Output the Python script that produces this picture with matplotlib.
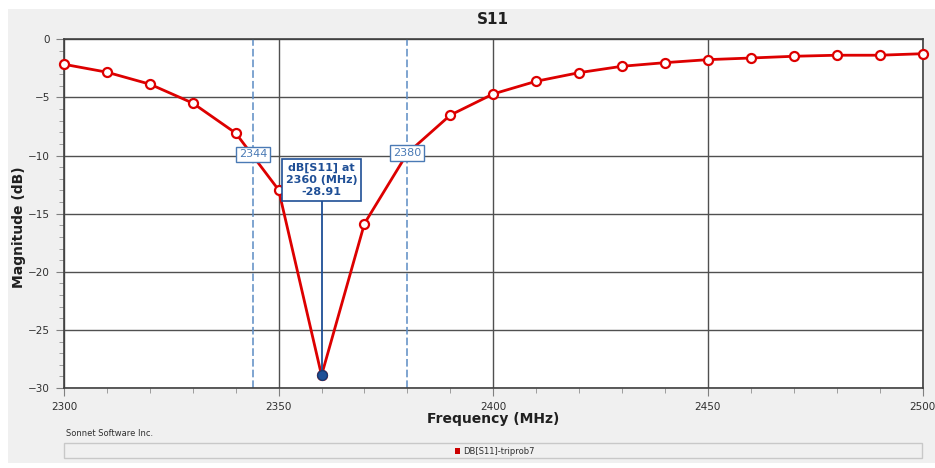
import numpy as np
import matplotlib
matplotlib.use("Agg")
from matplotlib import pyplot as plt
from matplotlib.patches import Rectangle
from matplotlib.ticker import MultipleLocator

# S11 sweep, every 10 MHz
freq = [2300, 2310, 2320, 2330, 2340, 2350, 2360, 2370, 2380, 2390, 2400,
        2410, 2420, 2430, 2440, 2450, 2460, 2470, 2480, 2490, 2500]
s11 = [-2.15, -2.83, -3.86, -5.49, -8.07, -12.96, -28.91, -15.85, -9.8, -6.52, -4.70,
       -3.61, -2.87, -2.32, -2.01, -1.75, -1.61, -1.46, -1.37, -1.37, -1.24]

bandEdges = [2344, 2380]
bandLevels = [-9.9, -9.8]
markerFreq = 2360
markerValue = -28.91
seriesName = "DB[S11]-triprob7"

W, H = 935, 468
fig = plt.figure(figsize=(W / 100, H / 100), dpi=100)
fig.patch.set_facecolor("white")

def px(x0, y0, x1, y1):
    return [x0 / W, 1 - y1 / H, (x1 - x0) / W, (y1 - y0) / H]

# gray panel behind everything
fig.patches.append(Rectangle((8 / W, 1 - 463 / H), (935 - 8) / W, (463 - 9) / H,
                             transform=fig.transFigure, facecolor="#f0f0f0",
                             edgecolor="none", zorder=-10))

ax = fig.add_axes(px(64, 39.3, 922.5, 388))
ax.set_facecolor("white")

ax.set_xlim(2300, 2500)
ax.set_ylim(-30, 0)
ax.xaxis.set_major_locator(MultipleLocator(50))
ax.xaxis.set_minor_locator(MultipleLocator(10))
ax.yaxis.set_major_locator(MultipleLocator(5))
ax.yaxis.set_minor_locator(MultipleLocator(1))
ax.tick_params(which="major", direction="out", length=6, color="#808080",
               labelsize=7.5, labelcolor="#303030", pad=4)
ax.tick_params(which="minor", direction="out", length=3.5, color="#909090")
ax.grid(which="major", color="#505050", linewidth=1)
for s in ax.spines.values():
    s.set_color("#404040")
    s.set_linewidth(1.2)

for f, lvl in zip(bandEdges, bandLevels):
    ax.axvline(f, color="#5b8cc4", linewidth=1.1, linestyle=(0, (5, 2)), zorder=2)
    ax.text(f, lvl, str(f), ha="center", va="center", fontsize=8, color="#4a7ab5",
            bbox=dict(boxstyle="square,pad=0.25", facecolor="white",
                      edgecolor="#4a7ab5", linewidth=1), zorder=6)

ax.plot(freq, s11, color="#dd0000", linewidth=2, marker="o", markersize=6.5,
        markerfacecolor="white", markeredgecolor="#dd0000", markeredgewidth=1.6,
        zorder=4, clip_on=False)

# marker readout
boxY = -12.1
ax.plot([markerFreq, markerFreq], [markerValue, boxY], color="#1f4f96",
        linewidth=1.3, zorder=5)
ax.plot([markerFreq], [markerValue], marker="o", markersize=7,
        markerfacecolor="#1f4f96", markeredgecolor="#173a70", zorder=7)
ax.text(markerFreq, boxY, f"dB[S11] at\n{markerFreq} (MHz)\n{markerValue:.2f}",
        ha="center", va="center", fontsize=8, fontweight="bold", color="#1f4f96",
        linespacing=1.3,
        bbox=dict(boxstyle="square,pad=0.3", facecolor="white",
                  edgecolor="#1f4f96", linewidth=1.2), zorder=8)

ax.set_title("S11", fontsize=11, fontweight="bold", color="#202020", pad=11)
ax.set_xlabel("Frequency (MHz)", fontsize=10, fontweight="bold", color="#202020", labelpad=0)
ax.set_ylabel("Magnitude (dB)", fontsize=10, fontweight="bold", color="#202020")
ax.yaxis.set_label_coords(-0.044, 0.46)

# footer and legend strip
fig.text(66 / W, 1 - 434 / H, "Sonnet Software Inc.", fontsize=6, color="#303030",
         ha="left", va="center")
fig.patches.append(Rectangle((64 / W, 1 - 458 / H), (922 - 64) / W, 15 / H,
                             transform=fig.transFigure, facecolor="#f0f0f0",
                             edgecolor="#c8c8c8", linewidth=1, zorder=1))
fig.patches.append(Rectangle((455 / W, 1 - 454 / H), 5 / W, 6 / H,
                             transform=fig.transFigure, facecolor="#cc0000",
                             edgecolor="none", zorder=2))
fig.text(463 / W, 1 - 451 / H, seriesName, fontsize=6, color="#303030",
         ha="left", va="center")

fig.savefig("out.png", dpi=100, facecolor=fig.get_facecolor())
